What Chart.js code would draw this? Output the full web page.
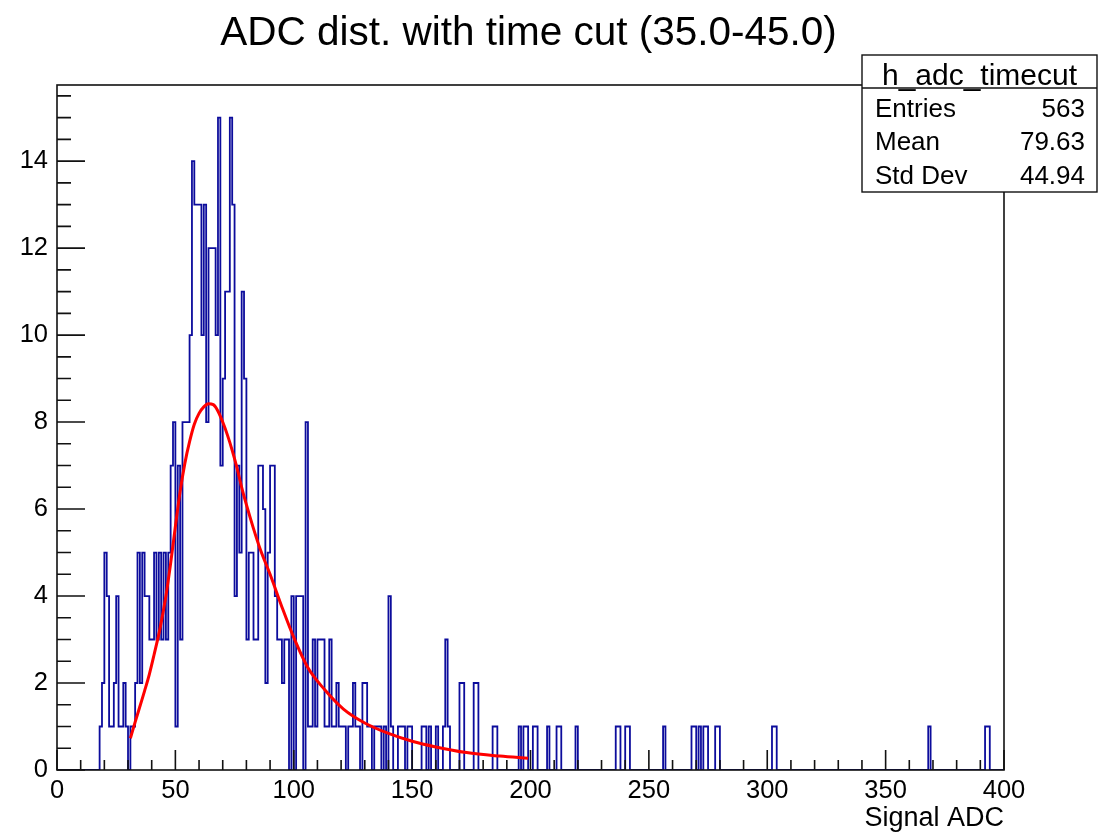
<!DOCTYPE html>
<html>
<head>
<meta charset="utf-8">
<title>ADC dist. with time cut (35.0-45.0)</title>
<script src="https://cdn.jsdelivr.net/npm/chart.js@4.4.1/dist/chart.umd.min.js"></script>
<style>
  html, body { margin: 0; padding: 0; background: #fff; }
</style>
</head>
<body>
<canvas id="chart_adc" width="1109" height="832"></canvas>
<script>
// histogram h_adc_timecut, 1 ADC per bin, 0..400
const adcFirstBin = 18;
const adcCounts = [
  1, 2, 5, 4, 1, 1, 2, 4, 1, 1,        // 18-27
  2, 1, 0, 1, 1, 2, 5, 2, 5, 4,        // 28-37
  4, 3, 3, 5, 3, 5, 3, 5, 3, 5,        // 38-47
  7, 8, 1, 7, 3, 8, 8, 8, 10, 14,      // 48-57
  13, 13, 13, 10, 13, 8, 12, 12, 12, 10, // 58-67
  15, 7, 9, 11, 11, 15, 13, 4, 7, 5,   // 68-77
  11, 9, 3, 5, 5, 3, 3, 7, 7, 6,       // 78-87
  2, 5, 7, 7, 4, 3, 3, 2, 3, 3,        // 88-97
  0, 4, 0, 4, 4, 4, 0, 8, 1, 1,        // 98-107
  3, 1, 3, 3, 3, 1, 1, 3, 1, 1,        // 108-117
  2, 1, 1, 1, 0, 1, 1, 2, 1, 1,        // 118-127
  0, 2, 2, 1, 1, 0, 1, 1, 1, 0,        // 128-137
  1, 0, 4, 1, 0, 0, 1, 1, 1, 0,        // 138-147
  1, 1, 0, 0, 0, 0, 1, 1, 0, 1,        // 148-157
  0, 0, 1, 0, 0, 1, 3, 1, 0, 0,        // 158-167
  0, 0, 2, 2, 0, 0, 0, 0, 2, 2,        // 168-177
  0, 0, 0, 0, 0, 0, 1, 1               // 178-185
];
const tailBins = [195, 197, 198, 201, 202, 207, 211, 212, 219, 236, 237, 240, 241,
                  256, 268, 269, 271, 273, 274, 278, 279, 302, 303, 368, 392, 393];
const tailCounts = [1, 1, 1, 1, 1, 1, 1, 1, 1, 1, 1, 1, 1,
                    1, 1, 1, 1, 1, 1, 1, 1, 1, 1, 1, 1, 1];

// fit curve
const fitX = [31, 33, 35, 37, 39, 41, 43.5, 46, 48, 50, 52, 54, 56, 58, 60, 62, 64, 66, 68, 70, 72, 74, 76, 78,
              80, 83, 86, 90, 95, 100, 106, 113, 121, 130, 140, 150, 160, 173, 187, 199];
const fitY = [0.73, 1.1, 1.46, 1.82, 2.2, 2.65, 3.25, 4.0, 4.75, 5.6, 6.4, 7.05, 7.55, 7.95, 8.2, 8.35, 8.42, 8.4, 8.25, 8.0, 7.7, 7.35, 6.95, 6.5,
              6.1, 5.55, 5.05, 4.5, 3.75, 3.05, 2.35, 1.85, 1.4, 1.08, 0.84, 0.66, 0.53, 0.4, 0.32, 0.27];

const xLabels = [0, 50, 100, 150, 200, 250, 300, 350, 400];
const yLabels = [0, 2, 4, 6, 8, 10, 12, 14];

const statNames = ['Entries', 'Mean', 'Std Dev'];
const statValues = ['563', '79.63', '44.94'];

const nBins = 400;
const FONT = "'Liberation Sans', Arial, Helvetica, sans-serif";
Chart.defaults.font.family = FONT;

// full bin contents
const counts = new Array(nBins).fill(0);
adcCounts.forEach((c, i) => { counts[adcFirstBin + i] = c; });
tailBins.forEach((b, i) => { counts[b] = tailCounts[i]; });

const histPts = counts.map((c, k) => ({ x: k, y: c }));
histPts.push({ x: nBins, y: 0 });
const fitPts = fitX.map((v, i) => ({ x: v, y: fitY[i] }));

// ROOT style frame, inner ticks, title, stats box
const rootDecor = {
  id: 'rootDecor',
  afterDatasetsDraw(chart) {
    const { ctx, chartArea: a, scales: { x, y } } = chart;
    ctx.save();
    ctx.strokeStyle = '#111';
    ctx.lineWidth = 1.6;
    ctx.strokeRect(a.left, a.top, a.right - a.left, a.bottom - a.top);

    ctx.beginPath();
    for (let v = 0; v <= nBins; v += 10) {
      const px = x.getPixelForValue(v);
      const len = v % 50 === 0 ? 20 : 10;
      ctx.moveTo(px, a.bottom);
      ctx.lineTo(px, a.bottom - len);
    }
    for (let v = 0; v <= y.max; v += 0.5) {
      const py = y.getPixelForValue(v);
      const len = v % 2 === 0 ? 28 : 14;
      ctx.moveTo(a.left, py);
      ctx.lineTo(a.left + len, py);
    }
    ctx.stroke();

    // title
    ctx.fillStyle = '#000';
    ctx.font = '40.5px ' + FONT;
    ctx.textAlign = 'center';
    ctx.textBaseline = 'alphabetic';
    ctx.fillText('ADC dist. with time cut (35.0-45.0)', (a.left + a.right) / 2 - 2, 45);

    // axis title
    ctx.font = '27px ' + FONT;
    ctx.textAlign = 'right';
    ctx.fillText('Signal ADC', a.right, 826);

    // stats box
    const bx = 862, by = 55, bw = 235, bh = 137;
    ctx.fillStyle = '#fff';
    ctx.fillRect(bx, by, bw, bh);
    ctx.lineWidth = 1.4;
    ctx.strokeRect(bx, by, bw, bh);
    ctx.beginPath();
    ctx.moveTo(bx, by + 33);
    ctx.lineTo(bx + bw, by + 33);
    ctx.stroke();
    ctx.fillStyle = '#000';
    ctx.font = '30px ' + FONT;
    ctx.textAlign = 'center';
    ctx.fillText('h_adc_timecut', bx + bw / 2, by + 30);
    ctx.font = '26px ' + FONT;
    statNames.forEach((n, i) => {
      const base = by + 62 + i * 33.3;
      ctx.textAlign = 'left';
      ctx.fillText(n, bx + 13, base);
      ctx.textAlign = 'right';
      ctx.fillText(statValues[i], bx + bw - 12, base);
    });
    ctx.restore();
  }
};

new Chart(document.getElementById('chart_adc'), {
  type: 'line',
  data: {
    datasets: [
      {
        label: 'fit',
        data: fitPts,
        borderColor: '#ff0000',
        borderWidth: 3,
        pointRadius: 0,
        fill: false,
        cubicInterpolationMode: 'monotone'
      },
      {
        label: 'h_adc_timecut',
        data: histPts,
        borderColor: '#0c0c9c',
        borderWidth: 1.8,
        pointRadius: 0,
        fill: false,
        stepped: 'before'
      }
    ]
  },
  options: {
    responsive: false,
    animation: false,
    layout: { padding: { top: 85, right: 105, left: 0, bottom: 0 } },
    plugins: {
      legend: { display: false },
      title: { display: false },
      tooltip: { enabled: false }
    },
    scales: {
      x: {
        type: 'linear',
        min: 0,
        max: nBins,
        afterFit: s => { s.height = 62; },
        afterBuildTicks: s => { s.ticks = xLabels.map(v => ({ value: v })); },
        grid: { display: false, drawTicks: false },
        border: { display: false },
        ticks: { color: '#000', font: { size: 25.5 }, padding: 6, maxRotation: 0, autoSkip: false }
      },
      y: {
        type: 'linear',
        min: 0,
        max: 15.75,
        afterFit: s => { s.width = 57; },
        afterBuildTicks: s => { s.ticks = yLabels.map(v => ({ value: v })); },
        grid: { display: false, drawTicks: false },
        border: { display: false },
        ticks: { color: '#000', font: { size: 25.5 }, padding: 9, autoSkip: false }
      }
    }
  },
  plugins: [rootDecor]
});
</script>
</body>
</html>
